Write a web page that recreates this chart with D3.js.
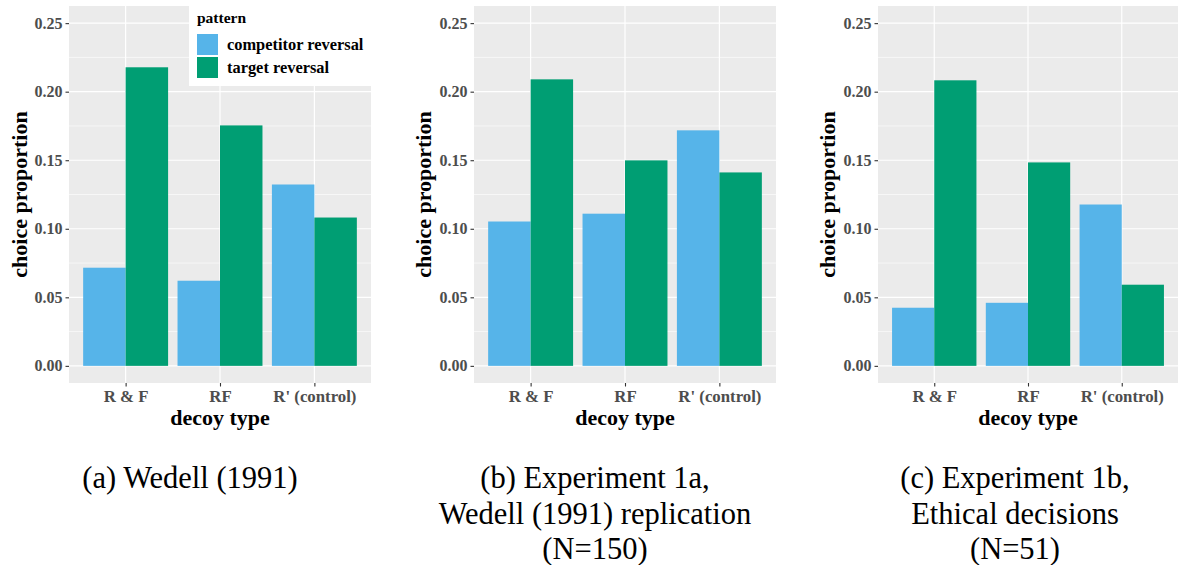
<!DOCTYPE html>
<html><head><meta charset="utf-8">
<script src="https://cdn.jsdelivr.net/npm/d3@7"></script>
<style>body{margin:0;background:#fff;} svg{display:block;} text{font-family:"Liberation Serif","DejaVu Serif",serif;}</style>
</head><body>
<script>
const categories = ["R & F", "RF", "R' (control)"];
const seriesNames = ["competitor reversal", "target reversal"];
const colors = ["#56B4E9", "#009E73"];
const yTicks = [0, 0.05, 0.10, 0.15, 0.20, 0.25];
const yTickLabels = ["0.00", "0.05", "0.10", "0.15", "0.20", "0.25"];
// panel a: Wedell (1991)
const wedellCompetitor = [0.0716, 0.0621, 0.1323];
const wedellTarget = [0.2178, 0.1754, 0.1082];
// panel b: Experiment 1a
const exp1aCompetitor = [0.1053, 0.1110, 0.1718];
const exp1aTarget = [0.2090, 0.1499, 0.1411];
// panel c: Experiment 1b
const exp1bCompetitor = [0.0424, 0.0460, 0.1177];
const exp1bTarget = [0.2083, 0.1484, 0.0592];
const captions = [
  ["(a) Wedell (1991)"],
  ["(b) Experiment 1a,", "Wedell (1991) replication", "(N=150)"],
  ["(c) Experiment 1b,", "Ethical decisions", "(N=51)"]
];

const W = 1179, H = 565;
const FONT = '"Liberation Serif", "DejaVu Serif", serif';
const svg = d3.select("body").append("svg").attr("width", W).attr("height", H);

const panels = [
  {left: 69, right: 371, comp: wedellCompetitor, targ: wedellTarget, cap: captions[0], titleX: 20, capX: 190},
  {left: 474, right: 776, comp: exp1aCompetitor, targ: exp1aTarget, cap: captions[1], titleX: 424, capX: 595},
  {left: 878, right: 1178, comp: exp1bCompetitor, targ: exp1bTarget, cap: captions[2], titleX: 828, capX: 1015}
];
const plotTop = 6, plotBottom = 383;

panels.forEach((p, pi) => {
  const g = svg.append("g");
  const y = d3.scaleLinear().domain([-0.0125, 0.2625]).range([plotBottom, plotTop]);
  const x = d3.scalePoint().domain(categories).range([p.left, p.right]).padding(0.6);
  const step = x.step();
  const bw = step * 0.9 / 2;
  g.append("rect").attr("x", p.left).attr("y", plotTop).attr("width", p.right - p.left)
    .attr("height", plotBottom - plotTop).attr("fill", "#EBEBEB");
  const minor = [0.025, 0.075, 0.125, 0.175, 0.225];
  g.selectAll(".mn").data(minor).enter().append("line")
    .attr("x1", p.left).attr("x2", p.right).attr("y1", d => y(d)).attr("y2", d => y(d))
    .attr("stroke", "#fff").attr("stroke-width", 0.6);
  g.selectAll(".mj").data(yTicks).enter().append("line")
    .attr("x1", p.left).attr("x2", p.right).attr("y1", d => y(d)).attr("y2", d => y(d))
    .attr("stroke", "#fff").attr("stroke-width", 1.2);
  g.selectAll(".vx").data(categories).enter().append("line")
    .attr("x1", d => x(d)).attr("x2", d => x(d)).attr("y1", plotTop).attr("y2", plotBottom)
    .attr("stroke", "#fff").attr("stroke-width", 1.2);
  const rows = categories.map((c, i) => ({c, vals: [p.comp[i], p.targ[i]]}));
  rows.forEach(r => {
    r.vals.forEach((v, si) => {
      g.append("rect")
        .attr("x", x(r.c) - bw + si * bw).attr("width", bw)
        .attr("y", y(v)).attr("height", y(0) - y(v))
        .attr("fill", colors[si]);
    });
  });
  const ya = d3.axisLeft(y).tickValues(yTicks).tickFormat((d, i) => yTickLabels[i]).tickSize(3.5).tickPadding(3);
  const yg = g.append("g").attr("transform", `translate(${p.left},0)`).call(ya);
  yg.attr("font-family", null);
  yg.select(".domain").remove();
  yg.selectAll("line").attr("stroke", "#333").attr("stroke-width", 1.1);
  yg.selectAll("text").attr("fill", "#4D4D4D").style("font-family", FONT).style("font-size", "16px").style("font-weight", "bold");
  const xa = d3.axisBottom(x).tickSize(3.5).tickPadding(4);
  const xg = g.append("g").attr("transform", `translate(0,${plotBottom})`).call(xa);
  xg.attr("font-family", null);
  xg.select(".domain").remove();
  xg.selectAll("line").attr("stroke", "#333").attr("stroke-width", 1.1);
  xg.selectAll("text").attr("fill", "#4D4D4D").style("font-family", FONT).style("font-size", "16.8px").style("font-weight", "bold");
  g.append("text").attr("x", (p.left + p.right) / 2).attr("y", 425).attr("text-anchor", "middle")
    .style("font-family", FONT).style("font-size", "22px").style("font-weight", "bold").text("decoy type");
  g.append("text").attr("transform", `translate(${p.titleX + 7},${(plotTop + plotBottom) / 2}) rotate(-90)`)
    .attr("text-anchor", "middle")
    .style("font-family", FONT).style("font-size", "22px").style("font-weight", "bold").text("choice proportion");
  p.cap.forEach((line, li) => {
    svg.append("text").attr("x", p.capX).attr("y", 488 + li * 35.5).attr("text-anchor", "middle")
      .style("font-family", FONT).style("font-size", "30.5px").attr("fill", "#000").text(line);
  });
});
const lg = svg.append("g");
lg.append("rect").attr("x", 189).attr("y", 0).attr("width", 184).attr("height", 86).attr("fill", "#fff");
lg.append("text").attr("x", 197).attr("y", 23).style("font-family", FONT).style("font-size", "15.5px")
  .style("font-weight", "bold").text("pattern");
seriesNames.forEach((s, i) => {
  lg.append("rect").attr("x", 197).attr("y", 34 + i * 23).attr("width", 21).attr("height", 21).attr("fill", colors[i]);
  lg.append("text").attr("x", 227).attr("y", 50 + i * 23).style("font-family", FONT).style("font-size", "16.4px")
    .style("font-weight", "bold").text(s);
});
</script>
</body></html>
